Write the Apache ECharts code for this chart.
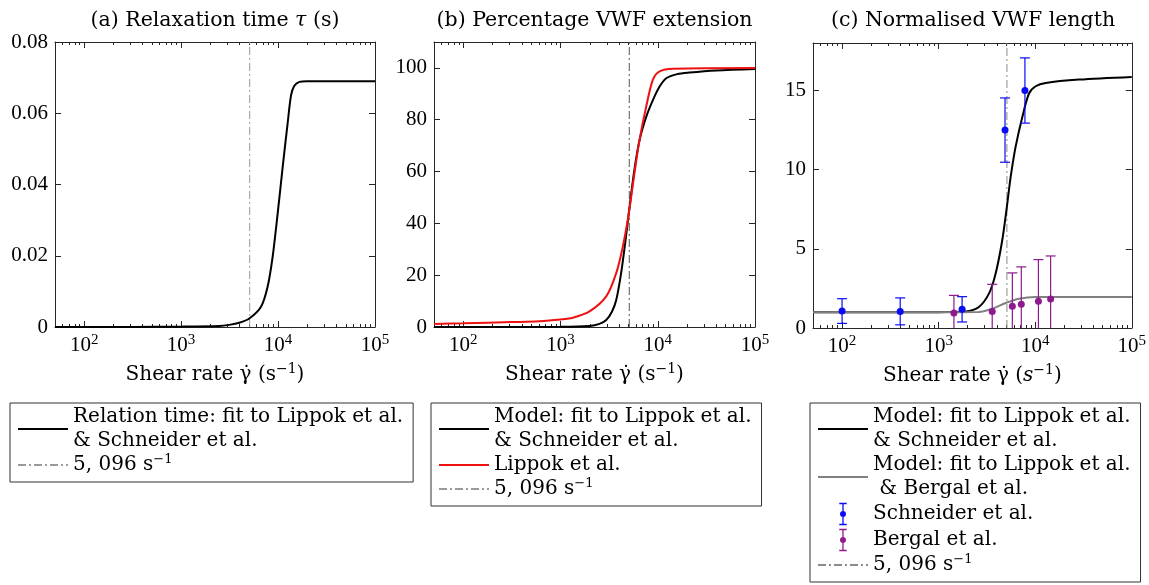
<!DOCTYPE html>
<html><head><meta charset="utf-8">
<script src="https://cdn.jsdelivr.net/npm/echarts@6/dist/echarts.min.js"></script>
<style>html,body{margin:0;padding:0;background:#fff}#c{width:1149px;height:585px}</style>
</head><body><div id="c"></div>
<script>
// ================= DATA =================
const xTickValues = [100, 1000, 10000, 100000];
const xMinRate = 50, xMaxRate = 100000;
const yTicksA = [0, 0.02, 0.04, 0.06, 0.08];
const yTicksB = [0, 20, 40, 60, 80, 100];
const yTicksC = [0, 5, 10, 15];
const yMaxA = 0.08, yMaxB = 110, yMaxC = 18;
const thresholdRate = 5096;

// (a) relaxation time
const tauShear = [50, 100, 316, 1000, 2470, 3130, 3980, 5050, 6670, 7800, 8790, 9910, 11170, 12560, 13610, 14720, 16600, 19950, 100000];
const tauValue = [0, 0, 0.00001, 0.0001, 0.0003, 0.0006, 0.0012, 0.0024, 0.0057, 0.0113, 0.0197, 0.0319, 0.045, 0.0572, 0.0650, 0.0677, 0.0688, 0.069, 0.069];

// (b) percentage extension
const modelBShear = [50, 316, 1000, 1986, 2512, 2951, 3388, 3741, 4207, 4667, 5129, 5768, 6501, 7621, 8913, 10447, 12218, 15849, 21232, 39811, 100000];
const modelBValue = [0, 0, 0.05, 0.4, 1.2, 2.7, 6, 10.4, 21, 33.6, 46.4, 61.0, 72.2, 81.2, 87.6, 92.8, 96.0, 97.6, 98.2, 99.0, 99.6];
const lippokShear = [50, 100, 316, 603, 1000, 1340, 1986, 2951, 3741, 4375, 5047, 5768, 6501, 7621, 8913, 10471, 14289, 100000];
const lippokValue = [1.2, 1.4, 1.9, 2.2, 2.9, 3.6, 6.0, 11.8, 20.8, 31.1, 44, 59.5, 72.3, 85.2, 95.5, 98.7, 99.7, 100];

// (c) normalised length
const modelC1Shear = [50, 1000, 1901, 2612, 3319, 3890, 4560, 5140, 5572, 6266, 7362, 8630, 10116, 12853, 28445, 100000];
const modelC1Value = [1.0, 1.0, 1.05, 1.33, 2.17, 3.43, 5.54, 7.86, 9.54, 11.44, 13.33, 14.81, 15.27, 15.48, 15.69, 15.86];
const modelC2Shear = [50, 1000, 2612, 3589, 4943, 6792, 10116, 100000];
const modelC2Value = [1.0, 1.0, 1.01, 1.22, 1.58, 1.85, 1.96, 1.96];
const schneiderShear = [100, 400, 1750, 4870, 7830];
const schneiderValue = [1.07, 1.05, 1.18, 12.5, 15.0];
const schneiderErr = [0.78, 0.85, 0.8, 2.03, 2.06];
const bergalShear = [1440, 3590, 5800, 7180, 10800, 14450];
const bergalValue = [0.95, 1.05, 1.37, 1.50, 1.69, 1.83];
const bergalErr = [1.11, 1.71, 2.11, 2.36, 2.63, 2.72];

// text
const panelTitles = ['(a) Relaxation time {i|τ} (s)', '(b) Percentage VWF extension', '(c) Normalised VWF length'];
const legendLabels = {
  a_tau: 'Relation time: fit to Lippok et al.\n& Schneider et al.',
  a_thr: '5, 096 s{sup|−1}',
  b_model: 'Model: fit to Lippok et al.\n& Schneider et al.',
  b_lippok: 'Lippok et al.',
  b_thr: '5, 096 s{sup|−1}',
  c_model1: 'Model: fit to Lippok et al.\n& Schneider et al.',
  c_model2: 'Model: fit to Lippok et al.\n & Bergal et al.',
  c_schneider: 'Schneider et al.',
  c_bergal: 'Bergal et al.',
  c_thr: '5, 096 s{sup|−1}'
};

// ================= STYLE / LAYOUT =================
const FONT = "'DejaVu Serif', serif";
const NUMFONT = "'Liberation Serif', serif";
const AX = '#262626';
const L10 = Math.log10;
const grids = [
  {left: 55, top: 42, width: 320, height: 285},
  {left: 434, top: 42, width: 321, height: 285},
  {left: 813, top: 43, width: 320, height: 285}
];
const majorLog = xTickValues.map(L10);
const minorLog = [];
for (let d = 1; d <= 4; d++) for (let k = 2; k <= 9; k++) {
  const v = k * Math.pow(10, d);
  if (v > xMinRate && v < xMaxRate) minorLog.push(L10(v));
}
const tickRich = {
  b: {fontFamily: NUMFONT, fontSize: 21, lineHeight: 25, color: '#000'},
  s: {fontFamily: NUMFONT, fontSize: 15, lineHeight: 15, verticalAlign: 'top', color: '#000'}
};
const nameRich = {
  n: {fontFamily: FONT, fontSize: 20, lineHeight: 25, color: '#000'},
  ni: {fontFamily: FONT, fontSize: 20, lineHeight: 25, color: '#000', fontStyle: 'italic'},
  s: {fontFamily: FONT, fontSize: 14, lineHeight: 14, verticalAlign: 'top', color: '#000'}
};

const xAxes = [], yAxes = [];
function addX(g, italicS) {
  const base = {type: 'value', gridIndex: g, min: L10(xMinRate), max: L10(xMaxRate), splitLine: {show: false}};
  xAxes.push(Object.assign({}, base, {
    position: 'bottom',
    axisLine: {show: true, onZero: false, lineStyle: {color: AX, width: 1}},
    axisTick: {show: true, inside: true, length: 6, customValues: majorLog, lineStyle: {color: AX}},
    axisLabel: {customValues: majorLog, margin: 6, formatter: v => '{b|10}{s|' + Math.round(v) + '}', rich: tickRich},
    name: italicS ? '{n|Shear rate γ̇ (}{ni|s}{s|−1}{n|)}' : '{n|Shear rate γ̇ (s}{s|−1}{n|)}',
    nameLocation: 'middle', nameGap: 35,
    nameTextStyle: {rich: nameRich}
  }));
  xAxes.push(Object.assign({}, base, {
    position: 'bottom', axisLine: {show: false, onZero: false},
    axisTick: {show: true, inside: true, length: 3, customValues: minorLog, lineStyle: {color: AX}},
    axisLabel: {show: false}
  }));
  xAxes.push(Object.assign({}, base, {
    position: 'top',
    axisLine: {show: true, onZero: false, lineStyle: {color: AX, width: 1}},
    axisTick: {show: true, inside: true, length: 6, customValues: majorLog, lineStyle: {color: AX}},
    axisLabel: {show: false}
  }));
  xAxes.push(Object.assign({}, base, {
    position: 'top', axisLine: {show: false, onZero: false},
    axisTick: {show: true, inside: true, length: 3, customValues: minorLog, lineStyle: {color: AX}},
    axisLabel: {show: false}
  }));
}
function addY(g, max, ticks) {
  const base = {type: 'value', gridIndex: g, min: 0, max: max, splitLine: {show: false}};
  yAxes.push(Object.assign({}, base, {
    position: 'left',
    axisLine: {show: true, onZero: false, lineStyle: {color: AX}},
    axisTick: {show: true, inside: true, length: 6, customValues: ticks, lineStyle: {color: AX}},
    axisLabel: {customValues: ticks, margin: 7, fontFamily: NUMFONT, fontSize: 21, color: '#000'}
  }));
  yAxes.push(Object.assign({}, base, {
    position: 'right',
    axisLine: {show: true, onZero: false, lineStyle: {color: AX}},
    axisTick: {show: true, inside: true, length: 6, customValues: ticks, lineStyle: {color: AX}},
    axisLabel: {show: false}
  }));
}
addX(0, false); addX(1, false); addX(2, true);
addY(0, yMaxA, yTicksA); addY(1, yMaxB, yTicksB); addY(2, yMaxC, yTicksC);

function pairs(xs, ys) { return xs.map((x, i) => [L10(x), ys[i]]); }
function lineSeries(name, g, xs, ys, color, width) {
  return {name, type: 'line', xAxisIndex: g * 4, yAxisIndex: g * 2, data: pairs(xs, ys),
    showSymbol: false, symbol: 'none', smooth: 0.3,
    lineStyle: {color, width}, itemStyle: {color}, z: 2};
}
function thrSeries(name, g, ymax, color) {
  return {name, type: 'line', xAxisIndex: g * 4, yAxisIndex: g * 2,
    data: [[L10(thresholdRate), 0], [L10(thresholdRate), ymax]],
    showSymbol: false, symbol: 'none',
    lineStyle: {color, width: 1, type: [8, 3, 2, 3]}, itemStyle: {color}, z: 1};
}
function errorBars(name, g, xs, ys, errs, color) {
  return {name, type: 'custom', xAxisIndex: g * 4, yAxisIndex: g * 2, silent: true, z: 3,
    data: xs.map((x, i) => [L10(x), ys[i] - errs[i], ys[i] + errs[i]]),
    encode: {x: 0, y: [1, 2]},
    renderItem: (params, api) => {
      const x = api.value(0), lo = api.value(1), hi = api.value(2);
      const pTop = api.coord([x, hi]);
      const pBot = api.coord([x, Math.max(lo, 0)]);
      const h = 5;
      const st = {stroke: color, lineWidth: 1.2};
      const ch = [
        {type: 'line', shape: {x1: pTop[0], y1: pTop[1], x2: pBot[0], y2: pBot[1]}, style: st},
        {type: 'line', shape: {x1: pTop[0] - h, y1: pTop[1], x2: pTop[0] + h, y2: pTop[1]}, style: st}
      ];
      if (lo >= 0) ch.push({type: 'line', shape: {x1: pBot[0] - h, y1: pBot[1], x2: pBot[0] + h, y2: pBot[1]}, style: st});
      return {type: 'group', children: ch};
    }};
}
function pointSeries(name, g, xs, ys, color) {
  return {name, type: 'scatter', xAxisIndex: g * 4, yAxisIndex: g * 2, data: pairs(xs, ys),
    symbol: 'circle', symbolSize: 7, itemStyle: {color, opacity: 1}, z: 4};
}

const BLUE = '#0a0af5', PURPLE = '#8e1a8e';
const series = [
  lineSeries('a_tau', 0, tauShear, tauValue, '#000', 2),
  thrSeries('a_thr', 0, yMaxA, '#9a9a9a'),
  lineSeries('b_model', 1, modelBShear, modelBValue, '#000', 2),
  lineSeries('b_lippok', 1, lippokShear, lippokValue, '#ee1111', 2),
  thrSeries('b_thr', 1, yMaxB, '#555'),
  lineSeries('c_model1', 2, modelC1Shear, modelC1Value, '#000', 2),
  lineSeries('c_model2', 2, modelC2Shear, modelC2Value, '#808080', 2),
  thrSeries('c_thr', 2, yMaxC, '#8a8a8a'),
  errorBars('eb_s', 2, schneiderShear, schneiderValue, schneiderErr, BLUE),
  errorBars('eb_b', 2, bergalShear, bergalValue, bergalErr, PURPLE),
  pointSeries('c_schneider', 2, schneiderShear, schneiderValue, BLUE),
  pointSeries('c_bergal', 2, bergalShear, bergalValue, PURPLE)
];

// error-bar legend glyph (cap, stem, dot, stem, cap); the two bare move-to points pad its box
const ebIcon = 'path://M5,-2Z M5,26Z M1,0H9V1.6H1Z M4.3,1.6H5.7V9H4.3Z M1.8,12A3.2,3.2 0 1,1 8.2,12A3.2,3.2 0 1,1 1.8,12Z M4.3,15H5.7V22.4H4.3Z M1,22.4H9V24H1Z';
function legend(left, names) {
  return {
    orient: 'vertical', left, top: 403,
    data: names.map(n => {
      if (n === 'c_schneider' || n === 'c_bergal') return {name: n, icon: ebIcon};
      const item = {name: n, itemStyle: {opacity: 0}};
      if (n === 'b_thr') item.lineStyle = {color: '#9a9a9a'};
      return item;
    }),
    formatter: n => legendLabels[n],
    itemWidth: 50, itemHeight: 26, itemGap: 0,
    padding: [2, 10, 5, 7],
    borderColor: '#333', borderWidth: 1,
    selectedMode: false,
    textStyle: {fontFamily: FONT, fontSize: 20, lineHeight: 24, color: '#000',
      rich: {sup: {fontFamily: FONT, fontSize: 13, lineHeight: 13, verticalAlign: 'top', color: '#000'}}}
  };
}

const titleCenters = grids.map(g => g.left + g.width / 2);
const option = {
  animation: false,
  backgroundColor: '#fff',
  grid: grids,
  xAxis: xAxes,
  yAxis: yAxes,
  series,
  legend: [
    legend(10, ['a_tau', 'a_thr']),
    legend(431, ['b_model', 'b_lippok', 'b_thr']),
    legend(810, ['c_model1', 'c_model2', 'c_schneider', 'c_bergal', 'c_thr'])
  ],
  graphic: panelTitles.map((t, i) => ({
    type: 'text', x: titleCenters[i], y: 21,
    style: {text: t, fontFamily: FONT, fontSize: 20.5, fill: '#000', align: 'center', verticalAlign: 'middle',
      rich: {i: {fontFamily: FONT, fontSize: 20.5, fontStyle: 'italic', fill: '#000'}}}
  }))
};
const chart = echarts.init(document.getElementById('c'), null, {renderer: 'canvas'});
chart.setOption(option);
</script></body></html>
